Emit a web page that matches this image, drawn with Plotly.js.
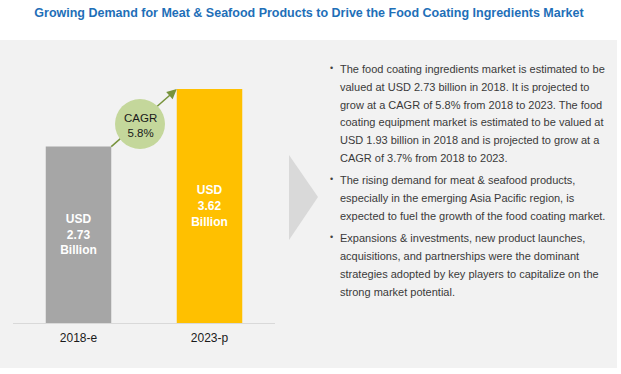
<!DOCTYPE html>
<html>
<head>
<meta charset="utf-8">
<script src="https://cdn.plot.ly/plotly-3.0.1.min.js"></script>
<style>html,body{margin:0;padding:0;background:#fff;}#chart{width:621px;height:374px;}</style>
</head>
<body>
<div id="chart"></div>
<script>
// ---- data ----
const categories = ['2018-e', '2023-p'];
const values = [2.73, 3.62];
const barColors = ['#a6a6a6', '#ffc000'];
const cagrLines = ['CAGR', '5.8%'];
const chartTitle = 'Growing Demand for Meat & Seafood Products to Drive the Food Coating Ingredients Market';
const bullet1 = [
  'The food coating ingredients market is estimated to be',
  'valued at USD 2.73 billion in 2018. It is projected to',
  'grow at a CAGR of 5.8% from 2018 to 2023. The food',
  'coating equipment market is estimated to be valued at',
  'USD 1.93 billion in 2018 and is projected to grow at a',
  'CAGR of 3.7% from 2018 to 2023.'
];
const bullet2 = [
  'The rising demand for meat & seafood products,',
  'especially in the emerging Asia Pacific region, is',
  'expected to fuel the growth of the food coating market.'
];
const bullet3 = [
  'Expansions & investments, new product launches,',
  'acquisitions, and partnerships were the dominant',
  'strategies adopted by key players to capitalize on the',
  'strong market potential.'
];
const bullets = [bullet1, bullet2, bullet3];

// ---- layout helpers ----
const W = 621, H = 374;
const M = {l: 13, r: 346, t: 40, b: 51};
const PW = W - M.l - M.r, PH = H - M.t - M.b;
const px = x => (x - M.l) / PW;
const py = y => (H - M.b - y) / PH;
const FONT = '"Liberation Sans", Arial, sans-serif';

const trace = {
  type: 'bar',
  x: categories,
  y: values,
  marker: {color: barColors, line: {width: 0}},
  text: values.map(v => 'USD<br>' + v.toFixed(2) + '<br>Billion'),
  textposition: 'inside',
  insidetextanchor: 'middle',
  textangle: 0,
  textfont: {family: FONT, size: 12, color: '#ffffff', weight: 'bold'},
  hoverinfo: 'none',
  width: 0.5
};

// arrow from top-right of first bar to top-left of second bar
const ax0 = 0.25, ay0 = values[0], ax1 = 0.75, ay1 = values[1];
const headFrac = 0.12;

const shapes = [
  {type: 'rect', xref: 'paper', yref: 'paper', x0: px(0), x1: px(617), y0: py(368), y1: py(40),
   fillcolor: '#f2f2f2', line: {width: 0}, layer: 'below'},
  {type: 'path', xref: 'paper', yref: 'paper',
   path: `M ${px(289)},${py(155)} L ${px(318)},${py(197)} L ${px(289)},${py(240)} Z`,
   fillcolor: '#d9d9d9', line: {width: 0}, layer: 'below'},
  {type: 'line', xref: 'x', yref: 'y',
   x0: ax0, y0: ay0, x1: ax1 - (ax1 - ax0) * 0.05, y1: ay1 - (ay1 - ay0) * 0.05,
   line: {color: '#77933c', width: 1.5}, layer: 'above'},
  {type: 'circle', xref: 'paper', yref: 'paper',
   x0: px(115), x1: px(165), y0: py(149), y1: py(99),
   fillcolor: '#c4d79b', line: {width: 0}, layer: 'above'}
];

const annotations = [
  {xref: 'x', yref: 'y', axref: 'x', ayref: 'y',
   x: ax1, y: ay1, ax: ax1 - (ax1 - ax0) * headFrac, ay: ay1 - (ay1 - ay0) * headFrac,
   text: '', showarrow: true, arrowhead: 2, arrowsize: 1.3, arrowwidth: 1.5,
   arrowcolor: '#77933c', standoff: 0, startstandoff: 0},
  {xref: 'paper', yref: 'paper', x: px(140), y: py(125), xanchor: 'center', yanchor: 'middle',
   text: cagrLines.join('<br>'), showarrow: false,
   font: {family: FONT, size: 11.5, color: '#1a1a1a'}}
];

// bullet text
let yy = 69;
const lineH = 17.8, gap = 4.5;
bullets.forEach((lines) => {
  annotations.push({xref: 'paper', yref: 'paper', x: px(331), y: py(yy - 1),
    xanchor: 'center', yanchor: 'middle', text: '•', showarrow: false,
    font: {family: FONT, size: 9, color: '#404040'}});
  lines.forEach(line => {
    annotations.push({xref: 'paper', yref: 'paper', x: px(338), y: py(yy),
      xanchor: 'left', yanchor: 'middle', text: line, showarrow: false,
      font: {family: FONT, size: 11, color: '#3a3a3a'}});
    yy += lineH;
  });
  yy += gap;
});

const layout = {
  width: W, height: H,
  margin: M,
  paper_bgcolor: '#ffffff',
  plot_bgcolor: 'rgba(0,0,0,0)',
  showlegend: false,
  bargap: 0.5,
  title: {text: chartTitle, xref: 'container', x: 309 / W, xanchor: 'center', y: 1 - 13 / H, yanchor: 'middle',
          font: {family: FONT, size: 12.5, color: '#1e6fb8', weight: 'bold'}},
  xaxis: {type: 'category', showline: true, linecolor: '#d9d9d9', linewidth: 1,
          showgrid: false, zeroline: false, ticks: '', ticklen: 0, ticklabelstandoff: 4,
          tickfont: {family: FONT, size: 12, color: '#1a1a1a'}, fixedrange: true},
  yaxis: {visible: false, range: [0, 4.38], fixedrange: true},
  shapes: shapes,
  annotations: annotations
};

Plotly.newPlot('chart', [trace], layout, {displayModeBar: false, staticPlot: true});
</script>
</body>
</html>
